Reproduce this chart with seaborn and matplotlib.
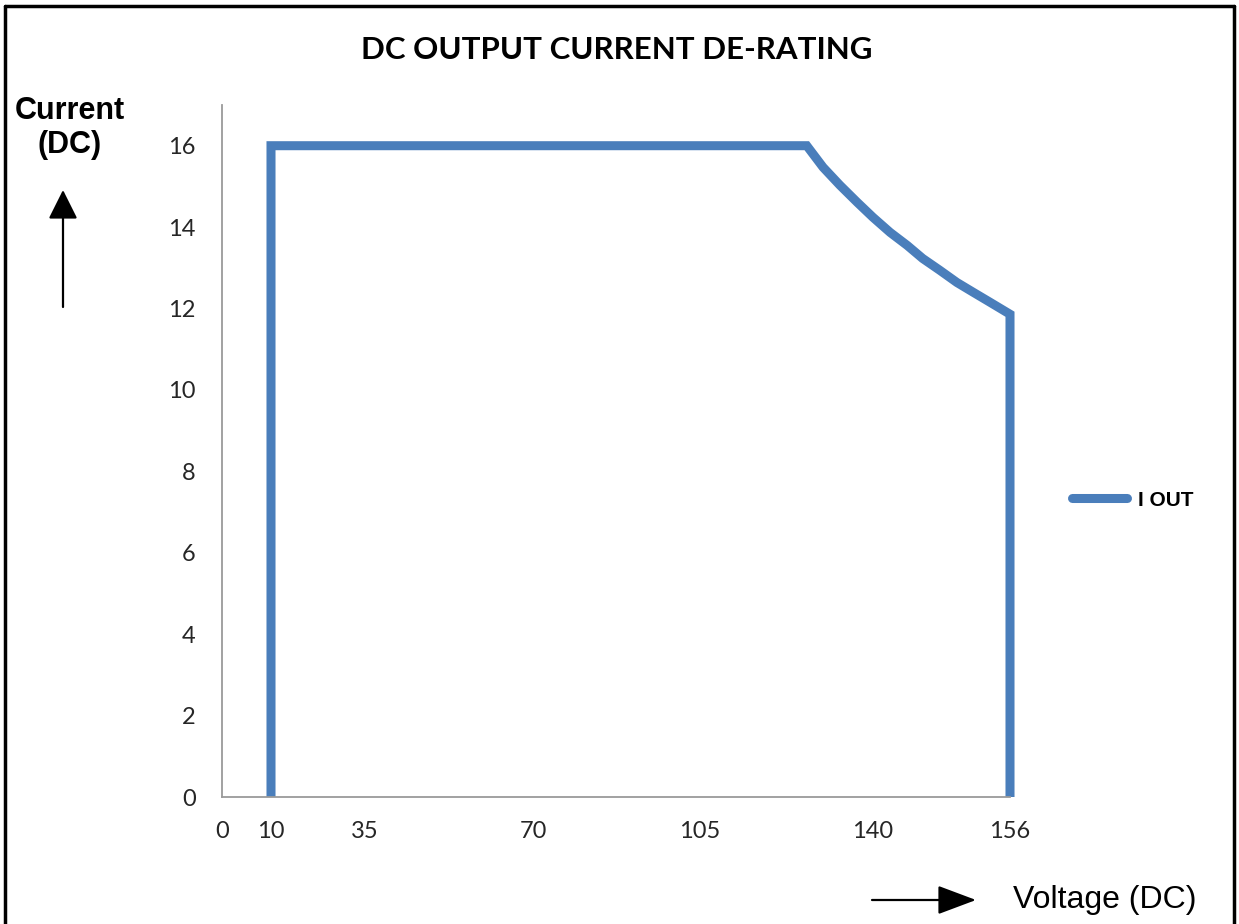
import numpy as np
import pandas as pd
import matplotlib
matplotlib.use("Agg")
import matplotlib.pyplot as plt
import seaborn as sns
from matplotlib.lines import Line2D

# ---- data ----
voltage = [10, 10, 126.6, 129.9, 133.3, 136.8, 140.0, 142.0, 144.0, 145.8, 147.8,
           149.8, 151.7, 153.7, 156, 156]
current = [0, 16, 16.0, 15.47, 15.03, 14.61, 14.24, 13.87, 13.55, 13.23, 12.94,
           12.64, 12.40, 12.15, 11.86, 0]
series_name = "I OUT"

x_tick_values = [0, 10, 35, 70, 105, 140, 156]
x_tick_labels = ["0", "10", "35", "70", "105", "140", "156"]
# the category axis in the reference is not linear: where each label sits along the axis
x_tick_spacing = [0, 49, 143, 311, 478, 651, 788]
y_ticks = [0, 2, 4, 6, 8, 10, 12, 14, 16]

title = "DC OUTPUT CURRENT DE-RATING"
y_label = "Current\n(DC)"
x_label = "Voltage (DC)"

LINE_COLOR = "#4A7EBB"

sns.set_theme(style="white")
plt.rcParams["font.family"] = ["Lato", "DejaVu Sans"]

W, H = 1239, 924
fig = plt.figure(figsize=(W / 100, H / 100), dpi=100)
ax = fig.add_axes([222 / W, 1 - 797 / H, (1010 - 222) / W, (797 - 105) / H])

def fwd(v):
    return np.interp(v, x_tick_values, x_tick_spacing)

def inv(p):
    return np.interp(p, x_tick_spacing, x_tick_values)

ax.set_xscale("function", functions=(fwd, inv))

df = pd.DataFrame({"Voltage": voltage, "Current": current, "series": series_name})
sns.lineplot(data=df, x="Voltage", y="Current", sort=False, estimator=None,
             color=LINE_COLOR, linewidth=6.5, ax=ax, legend=False)
for ln in ax.lines:
    ln.set_clip_on(False)
    ln.set_solid_joinstyle("miter")
    ln.set_solid_capstyle("butt")

ax.set_xlim(0, 156)
ax.set_ylim(0, 17)
ax.set_xticks(x_tick_values)
ax.set_xticklabels(x_tick_labels)
ax.set_yticks(y_ticks)
ax.set_yticklabels([str(v) for v in y_ticks])
ax.tick_params(axis="both", length=0, labelsize=17, colors="#262626")
ax.tick_params(axis="x", pad=17)
ax.tick_params(axis="y", pad=19)
ax.set_xlabel("")
ax.set_ylabel("")
for s in ["top", "right"]:
    ax.spines[s].set_visible(False)
for s in ["left", "bottom"]:
    ax.spines[s].set_color("#9a9a9a")
    ax.spines[s].set_linewidth(1.3)

# title
fig.text(617 / W, 1 - 50 / H, title, ha="center", va="center", color="black",
         fontsize=22.5, fontweight="bold", family=["Lato", "DejaVu Sans"])

# y axis caption + arrow
fig.text(70 / W, 1 - 128 / H, y_label, ha="center", va="center", fontsize=22,
         color="black", fontweight="bold", family=["Liberation Sans", "DejaVu Sans"],
         linespacing=1.15)
ax.annotate("", xy=(63, H - 190), xytext=(63, H - 307), xycoords="figure pixels",
            textcoords="figure pixels",
            arrowprops=dict(arrowstyle="-|>,head_length=0.9,head_width=0.45",
                            mutation_scale=20, lw=1.6, color="black",
                            shrinkA=0, shrinkB=0))

# x axis caption + arrow
fig.text(1013 / W, 1 - 900 / H, x_label, ha="left", va="center", fontsize=23,
         color="black", family=["Liberation Sans", "DejaVu Sans"])
ax.annotate("", xy=(976, H - 900), xytext=(872, H - 900), xycoords="figure pixels",
            textcoords="figure pixels",
            arrowprops=dict(arrowstyle="-|>,head_length=1.2,head_width=0.45",
                            mutation_scale=20, lw=1.6, color="black",
                            shrinkA=0, shrinkB=0))

# legend
handle = Line2D([], [], color=LINE_COLOR, linewidth=6.5, solid_capstyle="round")
leg = fig.legend([handle], [series_name], loc="center left",
                 bbox_to_anchor=(1062 / W, 1 - 500 / H), frameon=False, borderpad=0,
                 handlelength=2.6, handletextpad=0.55, fontsize=15)
for t in leg.get_texts():
    t.set_color("black")
    t.set_fontfamily(["Liberation Sans", "DejaVu Sans"])
    t.set_fontweight("bold")
    t.set_fontsize(15)

# outer frame (left, top, right)
fig.add_artist(Line2D([5 / W, 5 / W], [0, 1 - 6 / H], color="black", lw=2.5,
                      transform=fig.transFigure))
fig.add_artist(Line2D([5 / W, 1234 / W], [1 - 6 / H, 1 - 6 / H], color="black", lw=2.5,
                      transform=fig.transFigure))
fig.add_artist(Line2D([1234 / W, 1234 / W], [0, 1 - 6 / H], color="black", lw=2.5,
                      transform=fig.transFigure))

fig.savefig("out.png", dpi=100, facecolor="white")
